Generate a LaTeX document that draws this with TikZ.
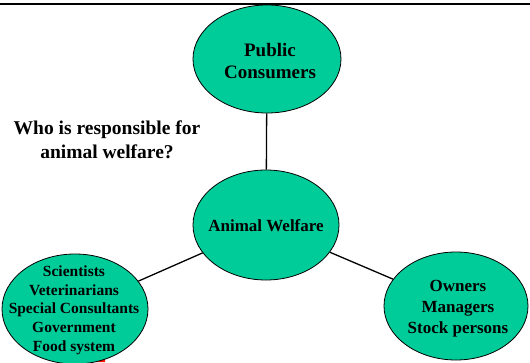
\documentclass[tikz,border=0pt]{standalone}
\usepackage{fontspec}
\setmainfont{Liberation Serif}
\usetikzlibrary{shapes.geometric}
\definecolor{teal1}{HTML}{00CC99}
\begin{document}
\begin{tikzpicture}[x=1pt,y=-1pt,
  bubble/.style={ellipse,draw=black,line width=0.8pt,fill=teal1,inner sep=0pt},
  lbl/.style={align=center,font=\bfseries,inner sep=0pt},
  conn/.style={line width=1.3pt,draw=black}]
\useasboundingbox (0,0) rectangle (530,362);
\fill[white] (0,0) rectangle (530,362);
% small red sliver at the bottom
\fill[red!85!orange] (96,362) -- (100,356) -- (105,356) -- (105,362) -- cycle;
% top rule
\draw[line width=2.5pt] (0,4) coordinate (ruleL) -- (530,4) coordinate (ruleR);
% ellipses
\node[bubble,minimum width=148pt,minimum height=108pt] (top) at (267,59) {};
\node[bubble,minimum width=146pt,minimum height=110pt] (mid) at (266,225) {};
\node[bubble,minimum width=146pt,minimum height=110pt] (bl) at (75,309) {};
\node[bubble,minimum width=144pt,minimum height=108pt] (br) at (456,306) {};
% connectors
\draw[conn] (top) -- (mid);
\draw[conn] (mid) -- (bl);
\draw[conn] (mid) -- (br);
% texts
\node[lbl,font=\bfseries\fontsize{19}{22}\selectfont] (ttop) at (270,61) {Public\\Consumers};
\node[lbl,font=\bfseries\fontsize{17}{20}\selectfont] (tmid) at (266,226) {Animal Welfare};
\node[lbl,font=\bfseries\fontsize{15.5}{18.7}\selectfont] (tbl) at (74,310) {Scientists\\Veterinarians\\Special Consultants\\Government\\Food system};
\node[lbl,font=\bfseries\fontsize{17}{21}\selectfont] (tbr) at (458,309) {Owners\\Managers\\Stock persons};
\node[lbl,font=\bfseries\fontsize{19.5}{24}\selectfont] (q) at (107,140) {Who is responsible for\\animal welfare?};
\end{tikzpicture}
\end{document}
